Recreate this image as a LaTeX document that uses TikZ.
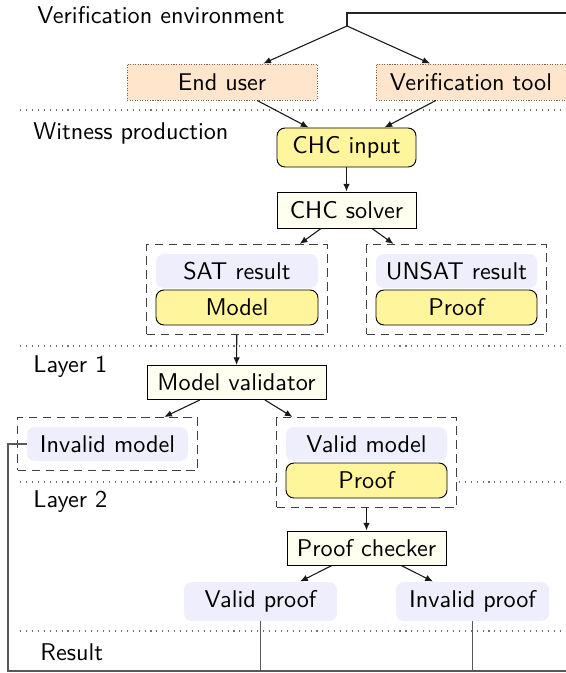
\documentclass[tikz,border=0pt]{standalone}
\usetikzlibrary{arrows.meta,fit,backgrounds}
\newlength{\px}
\setlength{\px}{0.4132pt}
\definecolor{peach}{RGB}{255,229,204}
\definecolor{peachline}{RGB}{120,100,90}
\definecolor{hcyellow}{RGB}{255,245,157}
\definecolor{lavender}{RGB}{238,238,252}
\definecolor{cream}{RGB}{255,255,240}
\tikzset{
  every node/.style={font=\sffamily, text=black},
  userbox/.style={draw=peachline, fill=peach, dash pattern=on 0.45pt off 0.6pt,
    minimum width=190\px, minimum height=36\px, inner sep=0pt},
  inbox/.style={draw=black, fill=hcyellow, rounded corners=3.3pt, line width=0.4pt,
    minimum height=35\px, inner sep=0pt},
  toolbox/.style={draw=black, fill=cream, line width=0.4pt,
    minimum height=34\px, inner sep=0pt},
  resbox/.style={fill=lavender, rounded corners=3.3pt,
    minimum height=34\px, inner sep=0pt},
  groupbox/.style={draw=black!75, fill=white, dash pattern=on 3.6pt off 2.2pt,
    line width=0.45pt, inner sep=9\px},
  arr/.style={draw=black!90, line width=0.45pt, -{Latex[length=3.2pt,width=2.7pt]}},
  link/.style={draw=black!65, line width=0.55pt},
  toplink/.style={draw=black!85, line width=0.45pt},
  sep/.style={draw=black!55, line width=0.45pt, dash pattern=on 0.45pt off 2pt},
  layer/.style={anchor=base west, inner sep=0pt}
}
\begin{document}
\begin{tikzpicture}[x=0.4132pt, y=-0.4132pt]
\useasboundingbox (0,0) rectangle (566,673);

% layer labels
\node[layer] (lenv) at (37,23) {Verification environment};
\node[layer] (lwit) at (33,139) {Witness production};
\node[layer] (ll1) at (33,372) {Layer 1};
\node[layer] (ll2) at (33,507) {Layer 2};
\node[layer] (lres) at (40,660) {Result};

% verification environment
\coordinate (split) at (347,26);
\coordinate (topR) at (566,13);
\node[userbox] (eu) at (222,82) {End user};
\node[userbox] (vt) at (471,82) {Verification tool};

% witness production
\node[inbox, minimum width=139\px, minimum height=39\px] (chcin) at (346.5,147.5) {CHC input};
\node[toolbox, minimum width=139\px, minimum height=36\px] (solver) at (346.5,210) {CHC solver};
\node[resbox, minimum width=162\px] (satres) at (237,271) {SAT result};
\node[inbox, minimum width=162\px] (model) at (237,307.5) {Model};
\node[resbox, minimum width=161\px] (unsatres) at (456.5,271) {UNSAT result};
\node[inbox, minimum width=161\px] (proofa) at (456.5,307.5) {Proof};

% layer 1
\node[toolbox, minimum width=179\px] (mv) at (236.5,382.5) {Model validator};
\node[resbox, minimum width=161\px] (invm) at (107.5,444) {Invalid model};
\node[resbox, minimum width=161\px] (vm) at (366.5,444) {Valid model};
\node[inbox, minimum width=161\px] (proofb) at (366.5,480.5) {Proof};

% layer 2
\node[toolbox, minimum width=159\px] (pc) at (366.5,548) {Proof checker};
\node[resbox, minimum width=153\px, minimum height=39\px] (vp) at (260.5,601.5) {Valid proof};
\node[resbox, minimum width=153\px, minimum height=39\px] (ip) at (472.5,601.5) {Invalid proof};

% result bus
\coordinate (loopL) at (8,671);
\coordinate (loopR) at (566,671);

\begin{scope}[on background layer]
  \draw[sep] (20,110) -- (566,110);
  \draw[sep] (20,346) -- (566,346);
  \draw[sep] (20,482) -- (566,482);
  \draw[sep] (20,631) -- (566,631);
  \node[groupbox, fit=(satres)(model)] (satgrp) {};
  \node[groupbox, fit=(unsatres)(proofa)] (unsatgrp) {};
  \node[groupbox, fit=(invm)] (invgrp) {};
  \node[groupbox, fit=(vm)(proofb)] (vgrp) {};
\end{scope}

% flow
\draw[toplink] (split) |- (topR);
\draw[arr] (split) -- (eu);
\draw[arr] (split) -- (vt);
\draw[arr] (eu) -- (chcin);
\draw[arr] (vt) -- (chcin);
\draw[arr] (chcin) -- (solver);
\draw[arr] (solver) -- (satgrp);
\draw[arr] (solver) -- (unsatgrp);
\draw[arr] (satgrp) -- (mv);
\draw[arr] (mv) -- (invgrp);
\draw[arr] (mv) -- (vgrp);
\draw[arr] (vgrp) -- (pc);
\draw[arr] (pc) -- (vp);
\draw[arr] (pc) -- (ip);

% results back to the environment
\draw[link] (invm.west) -| (loopL) -- (loopR);
\draw[link] (vp.south) -- (vp.south |- loopR);
\draw[link] (ip.south) -- (ip.south |- loopR);
\end{tikzpicture}
\end{document}
